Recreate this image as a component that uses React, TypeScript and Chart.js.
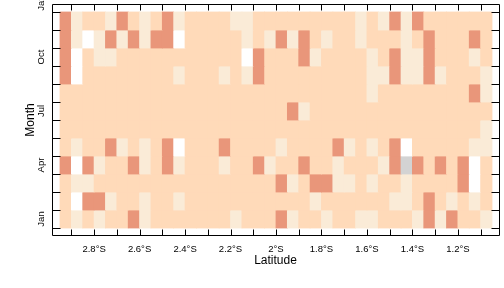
import React, { useEffect, useRef } from 'react';
import { Chart, registerables } from 'chart.js';

Chart.register(...registerables);

// Cell centres along the x axis (degrees latitude, negative = south)
const latitudes = [
  -2.925, -2.875, -2.825, -2.775, -2.725, -2.675, -2.625, -2.575, -2.525, -2.475,
  -2.425, -2.375, -2.325, -2.275, -2.225, -2.175, -2.125, -2.075, -2.025, -1.975,
  -1.925, -1.875, -1.825, -1.775, -1.725, -1.675, -1.625, -1.575, -1.525, -1.475,
  -1.425, -1.375, -1.325, -1.275, -1.225, -1.175, -1.125, -1.075,
];

const monthValues = [1, 2, 3, 4, 5, 6, 7, 8, 9, 10, 11, 12];

// Category colours: 0 white, 1 antiquewhite, 2 peachpuff, 3 darksalmon, 4 lightgray
const levelColors = ['#FFFFFF', '#FAEBD7', '#FFDAB9', '#E9967A', '#D3D3D3'];

// One row of category codes per month (west -> east)
const janRow = [2,1,2,1,2,2,3,1,2,2,2,2,2,2,2,1,2, 2,2,3,1,2,2,1,2,2,1,1,2,2,2,1,3,1,3,2,2,1];
const febRow = [2,0,3,3,1,2,2,1,2,2,1,2,2,2,2,2,2, 2,2,2,2,2,1,2,2,2,2,2,2,1,1,2,3,2,1,2,1,2];
const marRow = [2,1,1,2,2,2,2,2,2,2,2,2,2,2,2,2,2, 2,2,3,1,2,3,3,1,1,2,1,2,2,1,2,2,2,2,3,0,2];
const aprRow = [3,0,3,1,2,2,3,1,2,3,1,2,2,2,1,2,2, 3,1,2,2,3,2,2,1,2,2,2,1,3,4,3,2,3,2,3,0,2];
const mayRow = [2,1,2,2,3,1,2,1,2,3,0,2,2,2,3,2,2, 2,2,1,2,2,2,2,3,1,2,1,2,3,0,2,2,2,2,2,1,1];
const junRow = [2,2,2,2,2,2,2,2,2,2,2,2,2,2,2,2,2, 2,2,2,2,2,2,2,2,2,2,2,2,2,2,2,2,2,2,2,2,1];
const julRow = [2,2,2,2,2,2,2,2,2,2,2,2,2,2,2,2,2, 2,2,2,3,1,2,2,2,2,2,2,2,2,2,2,2,2,2,2,2,2];
const augRow = [2,2,2,2,2,2,2,2,2,2,2,2,2,2,2,2,2, 2,2,2,2,2,2,2,2,2,2,1,2,2,2,2,2,2,2,2,3,1];
const sepRow = [3,0,2,2,2,2,2,2,2,2,1,2,2,2,1,2,1, 3,2,2,2,2,2,2,2,2,2,1,1,3,1,1,3,1,2,2,2,1];
const octRow = [3,0,2,1,1,2,2,2,2,2,2,2,2,2,2,2,0, 3,2,2,2,3,1,2,2,2,2,1,2,3,1,1,3,2,2,2,1,2];
const novRow = [3,1,0,1,3,1,3,1,3,3,0,2,2,2,2,2,1, 2,1,3,1,3,2,1,2,2,1,2,2,2,1,2,3,2,2,2,3,2];
const decRow = [3,1,2,2,1,3,2,1,2,3,1,2,2,2,2,1,1, 2,2,2,2,2,2,2,2,2,1,2,1,3,1,3,2,2,2,2,2,2];

const monthRows = [janRow, febRow, marRow, aprRow, mayRow, junRow, julRow, augRow, sepRow, octRow, novRow, decRow];

// Axis ticks and labels
const xTickValues = [-2.8, -2.6, -2.4, -2.2, -2.0, -1.8, -1.6, -1.4, -1.2];
const xTickLabels = ['2.8°S', '2.6°S', '2.4°S', '2.2°S', '2°S', '1.8°S', '1.6°S', '1.4°S', '1.2°S'];
const xTickMarks = [-2.9, -2.8, -2.7, -2.6, -2.5, -2.4, -2.3, -2.2, -2.1, -2.0, -1.9, -1.8, -1.7, -1.6, -1.5, -1.4, -1.3, -1.2, -1.1];
const yLabelValues = [1, 4, 7, 10, 13];
const yLabelTexts = ['Jan', 'Apr', 'Jul', 'Oct', 'Jan'];
const yTickMarks = [0.5, 1.5, 2.5, 3.5, 4.5, 5.5, 6.5, 7.5, 8.5, 9.5, 10.5, 11.5, 12.5];

const xMin = -2.9852;
const xMax = -1.0192;
const yMin = 0.1111;
const yMax = 12.8889;

const FONT = '"Liberation Sans", Arial, Helvetica, sans-serif';

const framePlugin = {
  id: 'frameAndTicks',
  afterDraw(chart: any) {
    const { ctx, chartArea } = chart;
    const { left, right, top, bottom } = chartArea;
    const xs = chart.scales.x;
    const ys = chart.scales.y;
    ctx.save();
    ctx.strokeStyle = '#000';
    ctx.lineWidth = 1;
    ctx.beginPath();
    const L = Math.round(left) + 0.5;
    const R = Math.round(right) + 0.5;
    const T = Math.round(top) - 0.5;
    const B = Math.round(bottom) + 0.5;
    ctx.moveTo(L, T); ctx.lineTo(R, T); ctx.lineTo(R, B); ctx.lineTo(L, B); ctx.closePath();
    xTickMarks.forEach((v) => {
      const px = Math.round(xs.getPixelForValue(v)) + 0.5;
      ctx.moveTo(px, B); ctx.lineTo(px, B - 6);
      ctx.moveTo(px, T); ctx.lineTo(px, T + 6);
    });
    yTickMarks.forEach((v) => {
      const py = Math.round(ys.getPixelForValue(v)) + 0.5;
      ctx.moveTo(L, py); ctx.lineTo(L + 8, py);
      ctx.moveTo(R, py); ctx.lineTo(R - 8, py);
    });
    ctx.stroke();

    ctx.fillStyle = '#000';
    ctx.font = `9.5px ${FONT}`;
    ctx.textAlign = 'center';
    ctx.textBaseline = 'alphabetic';
    yLabelValues.forEach((v, i) => {
      const py = ys.getPixelForValue(v);
      ctx.save();
      ctx.translate(44.3, py);
      ctx.rotate(-Math.PI / 2);
      ctx.fillText(yLabelTexts[i], 0, 0);
      ctx.restore();
    });
    ctx.restore();
  },
};

export default function App() {
  const canvasRef = useRef<HTMLCanvasElement | null>(null);

  useEffect(() => {
    if (!canvasRef.current) return;
    const points: any[] = [];
    const colors: string[] = [];
    monthRows.forEach((row, r) => {
      row.forEach((level, c) => {
        points.push({ x: latitudes[c], y: [monthValues[r] - 0.5, monthValues[r] + 0.5] });
        colors.push(levelColors[level]);
      });
    });

    const chart = new Chart(canvasRef.current, {
      type: 'bar',
      data: {
        datasets: [
          {
            data: points,
            backgroundColor: colors,
            borderWidth: 0,
            barPercentage: 1,
            categoryPercentage: 1,
            inflateAmount: 0.4,
          } as any,
        ],
      },
      plugins: [framePlugin],
      options: {
        responsive: false,
        animation: false,
        devicePixelRatio: 1,
        layout: { padding: { top: 5, right: 5, bottom: 0, left: 0 } },
        plugins: {
          legend: { display: false },
          tooltip: { enabled: false },
        },
        scales: {
          x: {
            type: 'linear',
            min: xMin,
            max: xMax,
            offset: false,
            afterBuildTicks: (s: any) => {
              s.ticks = xTickValues.map((v) => ({ value: v }));
            },
            afterFit: (s: any) => {
              s.height = 53;
            },
            ticks: {
              autoSkip: false,
              maxRotation: 0,
              minRotation: 0,
              padding: 9.5,
              color: '#000',
              font: { family: FONT, size: 9.5, lineHeight: 1 },
              callback: (_v: any, i: number) => xTickLabels[i],
            },
            grid: { display: false, drawTicks: false },
            border: { display: false },
            title: {
              display: true,
              text: 'Latitude',
              color: '#000',
              font: { family: FONT, size: 12, lineHeight: 1 },
              padding: { top: 0, bottom: 21.8 },
            },
          },
          y: {
            type: 'linear',
            min: yMin,
            max: yMax,
            offset: false,
            afterFit: (s: any) => {
              s.width = 52;
            },
            ticks: { display: false },
            grid: { display: false, drawTicks: false },
            border: { display: false },
            title: {
              display: true,
              text: 'Month',
              color: '#000',
              font: { family: FONT, size: 12, lineHeight: 1 },
              padding: { top: 24.8, bottom: 0 },
            },
          },
        },
      } as any,
    });
    return () => chart.destroy();
  }, []);

  return (
    <div style={{ position: 'absolute', left: 0, top: 0, width: 504, height: 288 }}>
      <canvas ref={canvasRef} width={504} height={288} style={{ display: 'block' }} />
    </div>
  );
}
